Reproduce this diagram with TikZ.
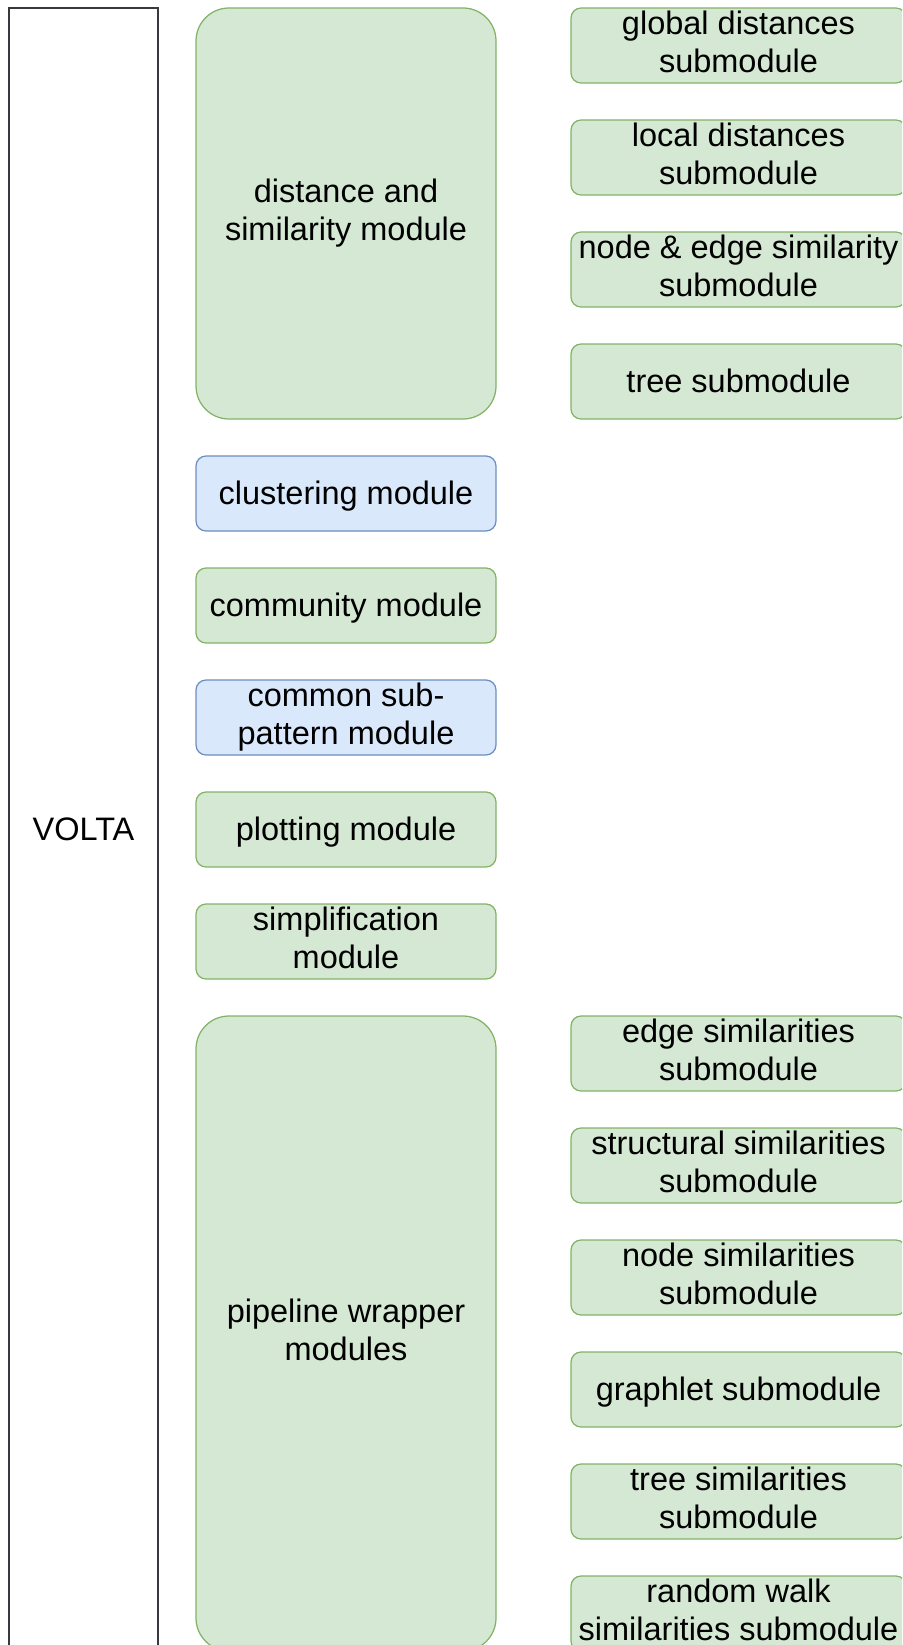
\documentclass[tikz,border=0pt]{standalone}
\usepackage{fontspec}
\setmainfont{Liberation Sans}
\usetikzlibrary{positioning}

\definecolor{greenfill}{HTML}{D5E8D4}
\definecolor{greenline}{HTML}{82B366}
\definecolor{bluefill}{HTML}{DAE8FC}
\definecolor{blueline}{HTML}{6C8EBF}
\definecolor{frameline}{HTML}{36393D}

\newcommand{\boxstrut}{\rule[-7.7pt]{0pt}{38pt}}

\tikzset{
  module/.style={draw=greenline, fill=greenfill, rounded corners=10pt,
    line width=1.25pt, outer sep=0pt, inner sep=0pt, align=center,
    minimum width=300pt, minimum height=75pt,
    font=\fontsize{32.5}{38}\selectfont,
    execute at begin node=\boxstrut, execute at end node=\boxstrut},
  bluemodule/.style={module, draw=blueline, fill=bluefill},
  bigmodule/.style={module, rounded corners=33pt},
  submodule/.style={module, minimum width=335pt},
}

\begin{document}
\begin{tikzpicture}[x=1pt, y=-1pt, node distance=37pt]
\useasboundingbox (0,0) rectangle (902,1645);
\clip (0,0) rectangle (902,1645);

\node[draw=frameline, fill=white, line width=1.25pt, outer sep=0pt,
  minimum width=149pt, minimum height=1642pt, anchor=north west,
  font=\fontsize{32.5}{38}\selectfont,
  execute at begin node=\boxstrut] (volta) at (9,8) {VOLTA};

\node[bigmodule, minimum height=411pt, anchor=north west] (dist) at (196,8) {distance and\\similarity module};
\node[bluemodule, below=of dist] (clust) {clustering module};
\node[module, below=of clust] (comm) {community module};
\node[bluemodule, below=of comm] (subpat) {common sub-\\pattern module};
\node[module, below=of subpat] (plot) {plotting module};
\node[module, below=of plot] (simp) {simplification\\module};
\node[bigmodule, minimum height=635pt, below=of simp] (pipe) {pipeline wrapper\\modules};

% submodules of the distance and similarity module
\node[submodule, right=75pt of dist.north east, anchor=north west] (glob) {global distances\\submodule};
\node[submodule, below=of glob] (loc) {local distances\\submodule};
\node[submodule, below=of loc] (nodeedge) {node \& edge similarity\\submodule};
\node[submodule, below=of nodeedge] (tree) {tree submodule};

% submodules of the pipeline wrapper modules
\node[submodule, right=75pt of pipe.north east, anchor=north west] (edgesim) {edge similarities\\submodule};
\node[submodule, below=of edgesim] (structsim) {structural similarities\\submodule};
\node[submodule, below=of structsim] (nodesim) {node similarities\\submodule};
\node[submodule, below=of nodesim] (graphlet) {graphlet submodule};
\node[submodule, below=of graphlet] (treesim) {tree similarities\\submodule};
\node[submodule, below=of treesim] (walk) {random walk\\similarities submodule};
\end{tikzpicture}
\end{document}
